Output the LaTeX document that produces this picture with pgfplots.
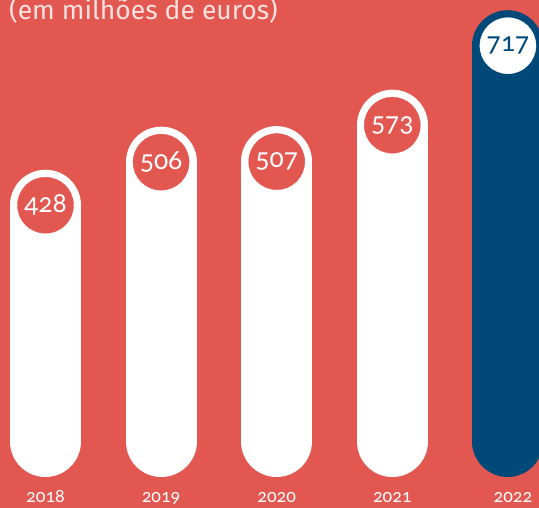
\documentclass[border=0pt]{standalone}
\usepackage{fontspec}
\setmainfont{Fira Sans}
\newfontfamily\numfont{Carlito}[Numbers=OldStyle]
\usepackage{pgfplots}
\pgfplotsset{compat=1.18}
\usepackage{pgfplotstable}
\definecolor{bgred}{RGB}{227,87,81}
\definecolor{darkblue}{RGB}{0,73,121}
\definecolor{titlecol}{RGB}{251,226,224}

\pgfplotstableread{
x y label
0 428 428
1 506 506
2 507 507
3 573 573
}\whitebars
\pgfplotstableread{
x y label
4 717 717
}\bluebars

\begin{document}
\begin{tikzpicture}
\useasboundingbox (0,0) rectangle (539pt,508pt);
\clip (0,0) rectangle (539pt,508pt);
\fill[bgred] (0,0) rectangle (539pt,508pt);
\begin{axis}[
  at={(0,0)}, anchor=south west,
  scale only axis, width=539pt, height=508pt,
  xmin=-0.3936, xmax=4.269,
  ymin=-120.47, ymax=799.8,
  hide axis, clip=false,
]
% bars (pills from 0 to value)
\addplot[white, line width=71pt, line cap=round] coordinates {(0,0) (0,428)};
\addplot[white, line width=71pt, line cap=round] coordinates {(1,0) (1,506)};
\addplot[white, line width=71pt, line cap=round] coordinates {(2,0) (2,507)};
\addplot[white, line width=71pt, line cap=round] coordinates {(3,0) (3,573)};
\addplot[darkblue, line width=71pt, line cap=round] coordinates {(4,0) (4,717)};
% circles with labels
\addplot[bgred, only marks, mark=*, mark size=28pt, mark options={fill=bgred, draw=bgred},
  nodes near coords, point meta=explicit symbolic,
  every node near coord/.append style={anchor=center, font=\numfont\fontsize{28}{28}\selectfont, text=white}]
  table[x=x, y=y, meta=label] {\whitebars};
\addplot[white, only marks, mark=*, mark size=28pt, mark options={fill=white, draw=white},
  nodes near coords, point meta=explicit symbolic,
  every node near coord/.append style={anchor=center, font=\numfont\fontsize{28}{28}\selectfont, text=darkblue}]
  table[x=x, y=y, meta=label] {\bluebars};
% year labels
\node[anchor=base, inner sep=1pt, text=white, font=\numfont\fontsize{19}{19}\selectfont] at (axis cs:0,-110) {2018};
\node[anchor=base, inner sep=1pt, text=white, font=\numfont\fontsize{19}{19}\selectfont] at (axis cs:1,-110) {2019};
\node[anchor=base, inner sep=1pt, text=white, font=\numfont\fontsize{19}{19}\selectfont] at (axis cs:2,-110) {2020};
\node[anchor=base, inner sep=1pt, text=white, font=\numfont\fontsize{19}{19}\selectfont] at (axis cs:3,-110) {2021};
\node[anchor=base, inner sep=1pt, text=white, font=\numfont\fontsize{19}{19}\selectfont] at (axis cs:4.044,-110) {2022};
\node[anchor=base west, inner sep=0pt, text=titlecol, font=\fontsize{26.5}{26.5}\selectfont] at (axis cs:-0.316,763.6) {(em milhões de euros)};
\end{axis}
\end{tikzpicture}
\end{document}
